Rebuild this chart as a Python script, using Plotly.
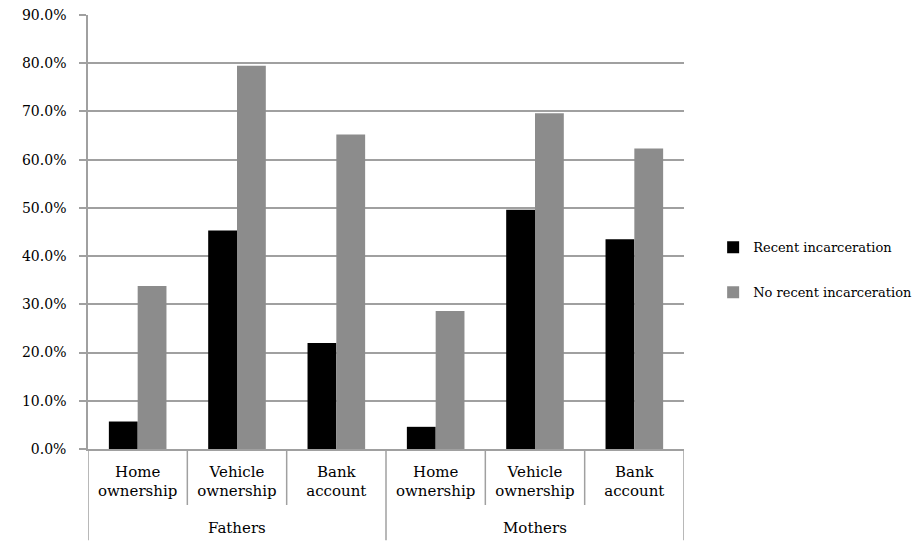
import plotly.graph_objects as go

groups = ["Fathers", "Mothers"]
items = ["Home<br>ownership", "Vehicle<br>ownership", "Bank<br>account",
         "Home<br>ownership", "Vehicle<br>ownership", "Bank<br>account"]
item_group = [0, 0, 0, 1, 1, 1]
recent = [5.7, 45.3, 22.0, 4.6, 49.6, 43.5]
no_recent = [33.8, 79.5, 65.2, 28.6, 69.6, 62.3]
yticks = [0, 10, 20, 30, 40, 50, 60, 70, 80, 90]

serif = "DejaVu Serif"
axis_grey = "#a0a0a0"

pos = list(range(len(items)))

fig = go.Figure()
fig.add_trace(go.Bar(x=pos, y=recent, name="Recent incarceration",
                     marker=dict(color="#000000", line=dict(width=0)),
                     legendgroup="a"))
fig.add_trace(go.Bar(x=pos, y=no_recent, name="No recent incarceration",
                     marker=dict(color="#8c8c8c", line=dict(width=0)),
                     legendgroup="b"))

inner_depth = -0.129
outer_depth = -0.21
n_per_group = len(items) // len(groups)
for b in range(len(items) + 1):
    xb = b - 0.5
    is_outer = (b % n_per_group == 0)
    fig.add_shape(type="line", xref="x", yref="paper", x0=xb, x1=xb,
                  y0=0, y1=outer_depth if is_outer else inner_depth,
                  line=dict(color=axis_grey, width=1.5))
for gi, g in enumerate(groups):
    members = [p for p, ig in zip(pos, item_group) if ig == gi]
    cx = sum(members) / len(members)
    fig.add_annotation(x=cx, y=-0.182, xref="x", yref="paper", text=g,
                       showarrow=False, yanchor="middle",
                       font=dict(size=15, family=serif, color="#000000"))

fig.update_layout(
    width=919, height=544,
    margin=dict(l=88, r=235, t=15, b=95, autoexpand=False),
    paper_bgcolor="white", plot_bgcolor="white",
    barmode="group", bargap=0.42, bargroupgap=0,
    font=dict(family=serif, size=15, color="#000000"),
    legend=dict(x=0.776, y=0.573, xref="container", yref="container",
                xanchor="left", yanchor="top",
                font=dict(size=13, family=serif), tracegroupgap=25,
                itemwidth=30, bgcolor="rgba(0,0,0,0)"),
    showlegend=True,
)
fig.update_yaxes(range=[0, 90], tickvals=yticks,
                 ticktext=[f"{v:.1f}%" for v in yticks],
                 showgrid=True, gridcolor=axis_grey, gridwidth=1.5,
                 showline=True, linecolor=axis_grey, linewidth=1.5,
                 ticks="outside", ticklen=7, tickcolor=axis_grey, tickwidth=1.5,
                 ticklabelstandoff=10,
                 tickfont=dict(size=14, family=serif), zeroline=False)
fig.update_xaxes(range=[-0.5, len(items) - 0.5], tickvals=pos, ticktext=items,
                 showline=True, linecolor=axis_grey, linewidth=1.5,
                 ticks="", ticklabelstandoff=8,
                 tickfont=dict(size=15, family=serif), showgrid=False, zeroline=False)

fig.write_html("out.html")
